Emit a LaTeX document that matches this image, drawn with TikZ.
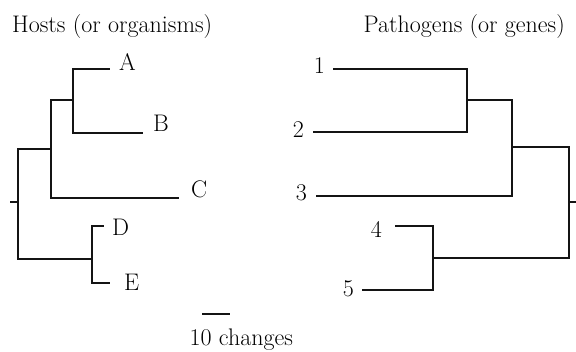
\documentclass[tikz,border=0pt]{standalone}
\begin{document}
\begin{tikzpicture}[x=1pt,y=-1pt,
  branch/.style={line width=2.4pt, draw=black!92},
  lbl/.style={inner sep=0pt, font=\fontsize{24}{28}\selectfont, text=black}]
\useasboundingbox (0,0) rectangle (576,351);

% ---------- left tree (hosts) ----------
\coordinate (Lstub) at (10,202);
\coordinate (Lroot) at (18,202);
\coordinate (Labc) at (51,149);
\coordinate (Lab) at (73,100);
\coordinate (Lde) at (92,259);
\coordinate (Ae) at (110,69);
\coordinate (Be) at (143,133);
\coordinate (Ce) at (179,198);
\coordinate (De) at (104,226);
\coordinate (Ee) at (110,283);

\draw[branch] (Lstub) -- (Lroot);
\draw[branch] (Lroot) |- (Labc);
\draw[branch] (Lroot) |- (Lde);
\draw[branch] (Labc) |- (Lab);
\draw[branch] (Labc) |- (Ce);
\draw[branch] (Lab) |- (Ae);
\draw[branch] (Lab) |- (Be);
\draw[branch] (Lde) |- (De);
\draw[branch] (Lde) |- (Ee);

\node[lbl, anchor=base west] (lA) at (119,70) {A};
\node[lbl, anchor=base west] (lB) at (153,131) {B};
\node[lbl, anchor=base west] (lC) at (191,197) {C};
\node[lbl, anchor=base west] (lD) at (112,235) {D};
\node[lbl, anchor=base west] (lE) at (124,290) {E};

% ---------- right tree (pathogens) ----------
\coordinate (Rstub) at (577,202);
\coordinate (Rroot) at (569,202);
\coordinate (R123) at (512,147);
\coordinate (R12) at (467,100);
\coordinate (R45) at (433,258);
\coordinate (e1) at (333,69);
\coordinate (e2) at (313,132);
\coordinate (e3) at (316,196);
\coordinate (e4) at (395,226);
\coordinate (e5) at (362,290);

\draw[branch] (Rstub) -- (Rroot);
\draw[branch] (Rroot) |- (R123);
\draw[branch] (Rroot) |- (R45);
\draw[branch] (R123) |- (R12);
\draw[branch] (R123) |- (e3);
\draw[branch] (R12) |- (e1);
\draw[branch] (R12) |- (e2);
\draw[branch] (R45) |- (e4);
\draw[branch] (R45) |- (e5);

\node[lbl, anchor=base east] (l1) at (325,73) {1};
\node[lbl, anchor=base east] (l2) at (304,137) {2};
\node[lbl, anchor=base east] (l3) at (307,200) {3};
\node[lbl, anchor=base east] (l4) at (382,237) {4};
\node[lbl, anchor=base east] (l5) at (354,296) {5};

% ---------- titles ----------
\node[lbl, anchor=base west] (thosts) at (12,32) {Hosts (or organisms)};
\node[lbl, anchor=base east] (tpath) at (565,32) {Pathogens (or genes)};

% ---------- scale bar ----------
\coordinate (sb1) at (202,314);
\coordinate (sb2) at (230,314);
\draw[branch] (sb1) -- (sb2);
\node[lbl, anchor=base west] (sbl) at (189.5,345.5) {10 changes};
\end{tikzpicture}
\end{document}
